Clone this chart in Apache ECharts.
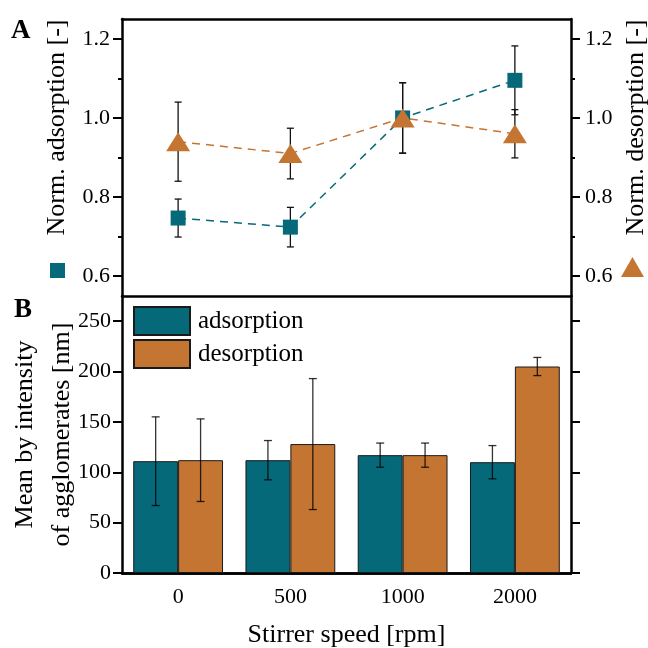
<!DOCTYPE html>
<html>
<head>
<meta charset="utf-8">
<script src="https://cdn.jsdelivr.net/npm/echarts@6/dist/echarts.min.js"></script>
<style>html,body{margin:0;padding:0;background:#fff}#c{width:648px;height:648px}</style>
</head>
<body>
<div id="c"></div>
<script>
// ---- data ----
var categories = ['0', '500', '1000', '2000'];
var normAds = [0.747, 0.724, 1.0, 1.095];
var normAdsErr = [0.048, 0.05, 0.089, 0.087];
var normDes = [0.94, 0.91, 1.0, 0.96];
var normDesErr = [0.1, 0.064, 0.089, 0.061];
var meanAds = [111, 112, 117, 110];
var meanAdsErr = [44, 19.5, 12, 16.5];
var meanDes = [112, 128, 117, 205];
var meanDesErr = [41, 65, 12, 9];
var topMajorTicks = [0.6, 0.8, 1.0, 1.2];
var topMinorTicks = [0.7, 0.9, 1.1];
var bottomTicks = [0, 50, 100, 150, 200, 250];

var TEAL = '#06697A', ORANGE = '#C47532';
var FONT = 'Liberation Serif';
var AX = {lineStyle: {color: '#000', width: 2.5}};

function errData(vals, errs, off) {
  return vals.map(function (v, i) { return [i, v - errs[i], v + errs[i], off]; });
}
function errRender(cap, frac, color) {
  return function (params, api) {
    var i = api.value(0);
    var band = api.size([1, 0])[0];
    var dx = api.value(3) * frac * band;
    var lo = api.coord([i, api.value(1)]);
    var hi = api.coord([i, api.value(2)]);
    var x = lo[0] + dx;
    var st = {stroke: color, lineWidth: 1.3};
    return {type: 'group', children: [
      {type: 'line', shape: {x1: x, y1: lo[1], x2: x, y2: hi[1]}, style: st},
      {type: 'line', shape: {x1: x - cap, y1: lo[1], x2: x + cap, y2: lo[1]}, style: st},
      {type: 'line', shape: {x1: x - cap, y1: hi[1], x2: x + cap, y2: hi[1]}, style: st}
    ]};
  };
}

var chart = echarts.init(document.getElementById('c'), null, {renderer: 'canvas'});
var g0 = {left: 122, right: 77, top: 19, height: 277, containLabel: false, outerBoundsMode: 'none'};
var g1 = {left: 122, right: 77, top: 296, height: 277, containLabel: false, outerBoundsMode: 'none'};
var tickLbl = {fontFamily: FONT, fontSize: 22, color: '#000'};
var nameStyle = {fontFamily: FONT, fontSize: 26, color: '#000'};

var option = {
  animation: false,
  backgroundColor: '#fff',
  title: [
    {text: 'A', left: 11, top: 18, textStyle: {fontFamily: FONT, fontSize: 27, fontWeight: 'bold', color: '#000'}, padding: 0},
    {text: 'B', left: 14, top: 297, textStyle: {fontFamily: FONT, fontSize: 27, fontWeight: 'bold', color: '#000'}, padding: 0}
  ],
  legend: [
    {data: [{name: 'Norm. adsorption', icon: 'rect'}], left: 50, top: 263, itemWidth: 15, itemHeight: 15,
     formatter: function () { return ''; }, selectedMode: false, padding: 0, itemGap: 0},
    {data: [{name: 'Norm. desorption', icon: 'triangle'}], left: 621, top: 257, itemWidth: 23, itemHeight: 20,
     formatter: function () { return ''; }, selectedMode: false, padding: 0, itemGap: 0},
    {data: [{name: 'adsorption', icon: 'rect'}, {name: 'desorption', icon: 'rect'}], orient: 'vertical',
     left: 133, top: 306, itemWidth: 56, itemHeight: 28, itemGap: 3, padding: 0, selectedMode: false,
     textStyle: {fontFamily: FONT, fontSize: 25, color: '#000', padding: [0, 0, 0, 3]}}
  ],
  grid: [g0, g1],
  xAxis: [
    {type: 'category', gridIndex: 0, data: categories, position: 'bottom', boundaryGap: true,
     axisLine: AX, axisTick: {alignWithLabel: true, length: 7, lineStyle: {width: 2, color: '#000'}},
     axisLabel: {show: false}, splitLine: {show: false}},
    {type: 'category', gridIndex: 0, data: categories, position: 'top',
     axisLine: AX, axisTick: {show: false}, axisLabel: {show: false}},
    {type: 'category', gridIndex: 1, data: categories, position: 'bottom', boundaryGap: true,
     axisLine: AX, axisTick: {alignWithLabel: true, length: 7, lineStyle: {width: 2, color: '#000'}},
     axisLabel: Object.assign({margin: 13}, tickLbl),
     name: 'Stirrer speed [rpm]', nameLocation: 'middle', nameGap: 49, nameTextStyle: nameStyle},
    {type: 'category', gridIndex: 1, data: categories, position: 'top', boundaryGap: true,
     axisLine: AX, axisTick: {alignWithLabel: true, length: 7, lineStyle: {width: 2, color: '#000'}},
     axisLabel: {show: false}}
  ],
  yAxis: [
    {type: 'value', gridIndex: 0, min: 0.55, max: 1.25, position: 'left',
     axisLine: Object.assign({show: true}, AX),
     axisTick: {show: true, length: 9, customValues: topMajorTicks, lineStyle: {width: 2, color: '#000'}},
     axisLabel: Object.assign({margin: 12, customValues: topMajorTicks, formatter: function (v) { return v.toFixed(1); }}, tickLbl),
     splitLine: {show: false},
     name: '{pad|}Norm. adsorption [-]', nameLocation: 'middle', nameRotate: 90, nameGap: 52,
     nameTextStyle: Object.assign({rich: {pad: {width: 60}}}, nameStyle)},
    {type: 'value', gridIndex: 0, min: 0.55, max: 1.25, position: 'right',
     axisLine: Object.assign({show: true}, AX),
     axisTick: {show: true, length: 9, customValues: topMajorTicks, lineStyle: {width: 2, color: '#000'}},
     axisLabel: Object.assign({margin: 14, customValues: topMajorTicks, formatter: function (v) { return v.toFixed(1); }}, tickLbl),
     splitLine: {show: false},
     name: '{pad|}Norm. desorption [-]', nameLocation: 'middle', nameRotate: 90, nameGap: 49,
     nameTextStyle: Object.assign({rich: {pad: {width: 60}}}, nameStyle)},
    {type: 'value', gridIndex: 0, min: 0.55, max: 1.25, position: 'left',
     axisLine: {show: false},
     axisTick: {show: true, length: 4, customValues: topMinorTicks, lineStyle: {width: 2, color: '#000'}},
     axisLabel: {show: false}, splitLine: {show: false}},
    {type: 'value', gridIndex: 0, min: 0.55, max: 1.25, position: 'right',
     axisLine: {show: false},
     axisTick: {show: true, length: 4, customValues: topMinorTicks, lineStyle: {width: 2, color: '#000'}},
     axisLabel: {show: false}, splitLine: {show: false}},
    {type: 'value', gridIndex: 1, min: 0, max: 275, position: 'left',
     axisLine: Object.assign({show: true}, AX),
     axisTick: {show: true, length: 9, customValues: bottomTicks, lineStyle: {width: 2, color: '#000'}},
     axisLabel: Object.assign({margin: 11, customValues: bottomTicks}, tickLbl),
     splitLine: {show: false},
     name: 'Mean by intensity\nof agglomerates [nm]', nameLocation: 'middle', nameRotate: 90, nameGap: 41,
     nameMoveOverlap: false,
     nameTextStyle: Object.assign({lineHeight: 37}, nameStyle)},
    {type: 'value', gridIndex: 1, min: 0, max: 275, position: 'right',
     axisLine: Object.assign({show: true}, AX),
     axisTick: {show: true, length: 9, customValues: bottomTicks, lineStyle: {width: 2, color: '#000'}},
     axisLabel: {show: false}, splitLine: {show: false}}
  ],
  series: [
    {type: 'custom', name: 'errAds', xAxisIndex: 0, yAxisIndex: 0, z: 1,
     renderItem: errRender(3.5, 0, '#111'), data: errData(normAds, normAdsErr, 0)},
    {type: 'custom', name: 'errDes', xAxisIndex: 0, yAxisIndex: 1, z: 1,
     renderItem: errRender(3.5, 0, '#111'), data: errData(normDes, normDesErr, 0)},
    {type: 'line', name: 'Norm. adsorption', xAxisIndex: 0, yAxisIndex: 0, data: normAds, z: 3,
     symbol: 'rect', symbolSize: 15, itemStyle: {color: TEAL},
     lineStyle: {color: TEAL, width: 1.5, type: [8, 6]}},
    {type: 'line', name: 'Norm. desorption', xAxisIndex: 0, yAxisIndex: 1, data: normDes, z: 3,
     symbol: 'triangle', symbolSize: [24, 19], itemStyle: {color: ORANGE},
     lineStyle: {color: ORANGE, width: 1.5, type: [8, 6]}},
    {type: 'bar', name: 'adsorption', xAxisIndex: 2, yAxisIndex: 4, data: meanAds,
     barGap: '0%', barCategoryGap: '20%',
     itemStyle: {color: TEAL, borderColor: '#1a1a1a', borderWidth: 1}},
    {type: 'bar', name: 'desorption', xAxisIndex: 2, yAxisIndex: 4, data: meanDes,
     barGap: '0%', barCategoryGap: '20%',
     itemStyle: {color: ORANGE, borderColor: '#1a1a1a', borderWidth: 1}},
    {type: 'custom', name: 'errMeanAds', xAxisIndex: 2, yAxisIndex: 4, z: 5,
     renderItem: errRender(4, 0.2, 'rgba(0,0,0,0.8)'), data: errData(meanAds, meanAdsErr, -1)},
    {type: 'custom', name: 'errMeanDes', xAxisIndex: 2, yAxisIndex: 4, z: 5,
     renderItem: errRender(4, 0.2, 'rgba(0,0,0,0.8)'), data: errData(meanDes, meanDesErr, 1)}
  ]
};
chart.setOption(option);
</script>
</body>
</html>
